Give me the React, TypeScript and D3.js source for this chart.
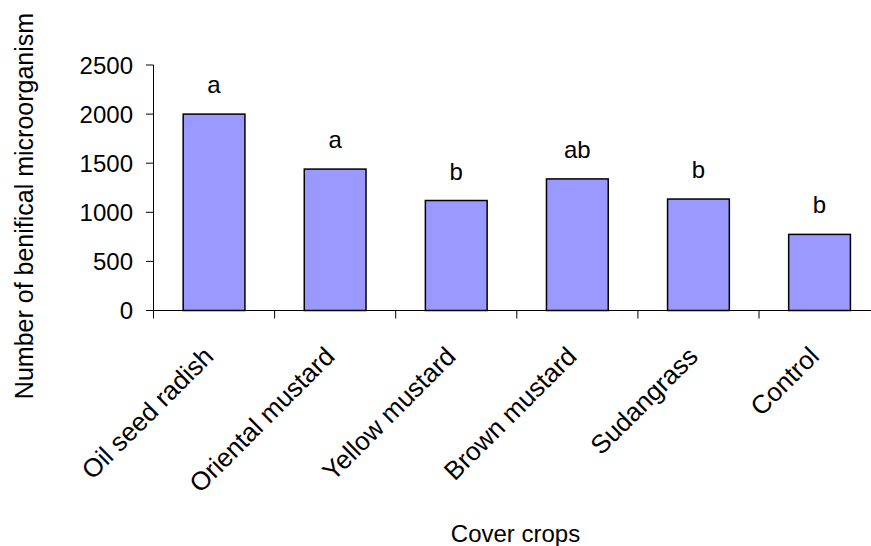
import React from "react";
import * as d3 from "d3";

const categories = ["Oil seed radish", "Oriental mustard", "Yellow mustard", "Brown mustard", "Sudangrass", "Control"];
const values = [2000, 1440, 1120, 1340, 1135, 775];
const letters = ["a", "a", "b", "ab", "b", "b"];
const yTicks = [0, 500, 1000, 1500, 2000, 2500];

const W = 871;
const H = 546;
const FONT = "'Liberation Sans', Arial, sans-serif";

export default function App() {
  const x0 = 153.5;
  const bandW = 121.1;
  const x = d3.scaleBand<string>().domain(categories).range([x0, x0 + bandW * categories.length]).paddingInner(0.49).paddingOuter(0.245);
  const y = d3.scaleLinear().domain([0, 2500]).range([310.5, 65]);
  const boundaries = d3.range(categories.length + 1).map((i) => x0 + i * bandW);

  return (
    <svg width={W} height={H} style={{ position: "absolute", left: 0, top: 0, background: "#fff" }} fontFamily={FONT}>
      {categories.map((c, i) => (
        <rect key={c} x={x(c)!} y={y(values[i])} width={x.bandwidth()} height={y(0) - y(values[i])} fill="#9999FF" stroke="#000" strokeWidth={1.5} />
      ))}
      {categories.map((c, i) => (
        <text key={c + "l"} x={x(c)! + x.bandwidth() / 2} y={y(values[i]) - 21} textAnchor="middle" fontSize={24} fill="#000">
          {letters[i]}
        </text>
      ))}
      <line x1={x0} x2={x0} y1={y(2500)} y2={y(0)} stroke="#000" strokeWidth={1} />
      {yTicks.map((t) => (
        <g key={t}>
          <line x1={x0 - 7.5} x2={x0} y1={y(t)} y2={y(t)} stroke="#000" strokeWidth={1} />
          <text x={133} y={y(t)} dy="0.36em" textAnchor="end" fontSize={24} fill="#000">
            {t}
          </text>
        </g>
      ))}
      <line x1={x0} x2={boundaries[boundaries.length - 1]} y1={y(0)} y2={y(0)} stroke="#000" strokeWidth={1} />
      {boundaries.map((b, i) => (
        <line key={i} x1={b} x2={b} y1={y(0)} y2={y(0) + 8} stroke="#000" strokeWidth={1} />
      ))}
      {categories.map((c) => {
        const cx = x(c)! + x.bandwidth() / 2;
        return (
          <text key={c + "x"} transform={`translate(${cx + 1},358) rotate(-45)`} textAnchor="end" fontSize={26} fill="#000">
            {c}
          </text>
        );
      })}
      <text x={515.5} y={541.5} textAnchor="middle" fontSize={24} fill="#000">
        Cover crops
      </text>
      <text transform={`translate(33,206) rotate(-90)`} textAnchor="middle" fontSize={25} fill="#000">
        Number of benifical microorganism
      </text>
    </svg>
  );
}
